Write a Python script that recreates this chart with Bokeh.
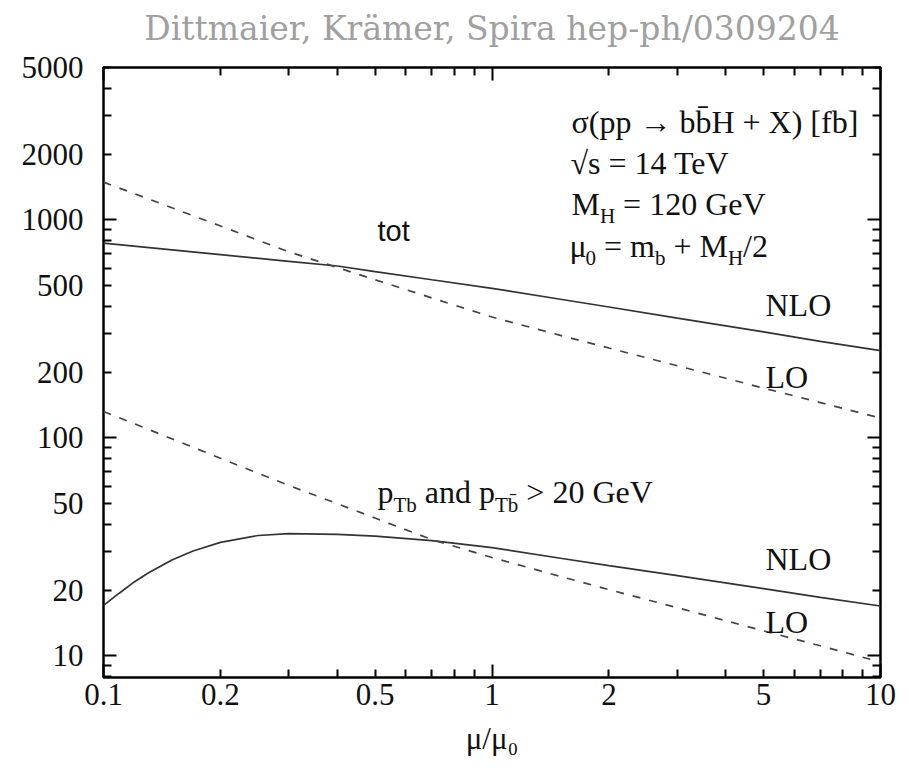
from bokeh.plotting import figure
from bokeh.models import Range1d, LogAxis, FixedTicker, PrintfTickFormatter, Label
from bokeh.embed import file_html
from bokeh.resources import INLINE

# ---- data ----
mu_a = [0.1, 0.15, 0.2, 0.3, 0.4, 0.5, 0.7, 1, 1.5, 2, 3, 5, 7, 10]
tot_lo = [1489, 1136, 937, 713, 604, 531, 438, 358, 295, 258, 214, 169, 145, 123]
tot_nlo = [782, 728, 692, 645, 614, 579, 531, 485, 432, 398, 354, 306, 277, 251]
cut_lo = [132, 98.9, 80.5, 60.4, 49.8, 42.8, 34.1, 28.2, 23.1, 20.1, 16.6, 13.0, 11.1, 9.35]
mu_b = [0.1, 0.11, 0.12, 0.13, 0.15, 0.17, 0.2, 0.25, 0.3, 0.4, 0.5, 0.7, 1, 1.5, 2, 3, 5, 7, 10]
cut_nlo = [17.0, 19.4, 21.8, 23.9, 27.5, 30.2, 33.1, 35.6, 36.3, 36.0, 35.4, 33.7, 31.3, 28.0, 25.9, 23.3, 20.3, 18.5, 16.9]

x_labels = [0.1, 0.2, 0.5, 1, 2, 5, 10]
x_long = [0.1, 1, 10]
x_short = [0.2, 0.3, 0.4, 0.5, 0.6, 0.7, 0.8, 0.9, 2, 3, 4, 5, 6, 7, 8, 9]
y_labels = [10, 20, 50, 100, 200, 500, 1000, 2000, 5000]
y_long = [10, 100, 1000]
y_short = [8, 9, 20, 30, 40, 50, 60, 70, 80, 90, 200, 300, 400, 500, 600, 700, 800, 900,
           2000, 3000, 4000, 5000]

TITLE = "Dittmaier, Krämer, Spira hep-ph/0309204"
X_TITLE = "μ/μ₀"

# ---- layout ----
W, H = 909, 768
BL, BR, BT, BB = 103, 29, 67, 91
FRAME_LEFT, FRAME_BOTTOM = BL, H - BB
TEXT_SHIFT = 10  # Label baseline correction (px)

p = figure(width=W, height=H, x_axis_type="log", y_axis_type="log",
           x_range=Range1d(0.1, 10), y_range=Range1d(7.94, 5000),
           output_backend="svg", toolbar_location=None,
           min_border_left=BL, min_border_right=BR, min_border_top=BT, min_border_bottom=BB)
p.background_fill_color = "white"
p.border_fill_color = "white"
p.outline_line_color = "black"
p.outline_line_width = 2.5
p.xgrid.grid_line_color = None
p.ygrid.grid_line_color = None

SERIF = "Liberation Serif"


def tick_axis(ax, long, short):
    ax.ticker = FixedTicker(ticks=long, minor_ticks=short)
    ax.major_tick_in = 13
    ax.major_tick_out = 0
    ax.minor_tick_in = 8
    ax.minor_tick_out = 0
    ax.major_tick_line_width = 2
    ax.minor_tick_line_width = 2
    ax.major_tick_line_color = "black"
    ax.minor_tick_line_color = "black"
    ax.axis_line_color = None
    ax.major_label_text_font_size = "1px"
    ax.major_label_text_color = None
    ax.major_label_standoff = 0


def label_axis(ax, ticks, standoff):
    ax.ticker = FixedTicker(ticks=ticks, minor_ticks=[])
    ax.formatter = PrintfTickFormatter(format="%g")
    ax.major_tick_line_color = None
    ax.minor_tick_line_color = None
    ax.major_tick_in = 0
    ax.major_tick_out = 0
    ax.minor_tick_in = 0
    ax.minor_tick_out = 0
    ax.axis_line_color = None
    ax.major_label_text_font = SERIF
    ax.major_label_text_font_size = "31px"
    ax.major_label_text_color = "#111111"
    ax.major_label_standoff = standoff


tick_axis(p.xaxis[0], x_long, x_short)
tick_axis(p.yaxis[0], y_long, y_short)

xlab = LogAxis()
label_axis(xlab, x_labels, 6)
xlab.axis_label = X_TITLE
xlab.axis_label_text_font = SERIF
xlab.axis_label_text_font_size = "31px"
xlab.axis_label_text_font_style = "normal"
xlab.axis_label_text_color = "#111111"
xlab.axis_label_standoff = 13
p.add_layout(xlab, "below")

ylab = LogAxis()
label_axis(ylab, y_labels, 20)
p.add_layout(ylab, "left")

xtop = LogAxis()
tick_axis(xtop, x_long, x_short)
xtop.axis_label = TITLE
xtop.axis_label_text_font = "DejaVu Serif"
xtop.axis_label_text_font_size = "33px"
xtop.axis_label_text_font_style = "normal"
xtop.axis_label_text_color = "#a0a0a0"
xtop.axis_label_standoff = 20
p.add_layout(xtop, "above")

yright = LogAxis()
tick_axis(yright, y_long, y_short)
p.add_layout(yright, "right")

# ---- curves ----
p.line(mu_a, tot_nlo, line_color="#333333", line_width=1.7)
p.line(mu_a, tot_lo, line_color="#444444", line_width=1.7, line_dash="8 9")
p.line(mu_b, cut_nlo, line_color="#333333", line_width=1.7)
p.line(mu_a, cut_lo, line_color="#444444", line_width=1.7, line_dash="8 9")

# ---- text annotations (canvas pixel layout) ----
WID = {'M': .889, 'H': .722, ' ': .25, '=': .564, '0': .5, '1': .5, '2': .5, 'G': .722,
       'e': .444, 'V': .722, 'μ': .5, 'm': .778, 'b': .5, '+': .564, '/': .278, 'p': .5,
       'T': .611, 'a': .444, 'n': .5, 'd': .5, '>': .564, '\u0304': 0.0}


def twidth(s, fs):
    return sum(WID.get(c, .5) for c in s) * fs


def put(text, cx, cy, fs, font=SERIF, color="#111111", align="left"):
    p.add_layout(Label(x=cx - FRAME_LEFT, y=FRAME_BOTTOM - cy + TEXT_SHIFT,
                       x_units="screen", y_units="screen",
                       text=text, text_font=font, text_font_size=f"{fs}px",
                       text_color=color, text_baseline="alphabetic", text_align=align))


def rich(cx, cy, parts, fs=32, sub=21, drop=12):
    x = cx
    for txt, kind in parts:
        size = fs if kind == "n" else sub
        yy = cy if kind == "n" else cy + drop
        core = txt.strip(" ")
        lead = len(txt) - len(txt.lstrip(" "))
        trail = len(txt) - len(txt.rstrip(" "))
        x += lead * WID[' '] * size
        put(core, x, yy, size)
        x += twidth(core, size) + trail * WID[' '] * size


put("σ(pp → bb̄H + X) [fb]", 571, 131.5, 32)
put("√s = 14 TeV", 570, 172, 32)
rich(571, 213, [("M", "n"), ("H", "s"), (" = 120 GeV", "n")])
rich(569, 255, [("μ", "n"), ("0", "s"), (" = m", "n"), ("b", "s"), (" + M", "n"), ("H", "s"), ("/2", "n")])

put("tot", 377, 240, 29, font="Liberation Sans")
put("NLO", 765, 314, 32)
put("LO", 765, 386.5, 32)
put("NLO", 765, 568, 32)
put("LO", 765, 631.5, 32)
rich(377, 501.5, [("p", "n"), ("Tb", "s"), (" and p", "n"), ("Tb̄", "s"), (" > 20 GeV", "n")], drop=13)

open("out.html", "w").write(file_html(p, INLINE))
